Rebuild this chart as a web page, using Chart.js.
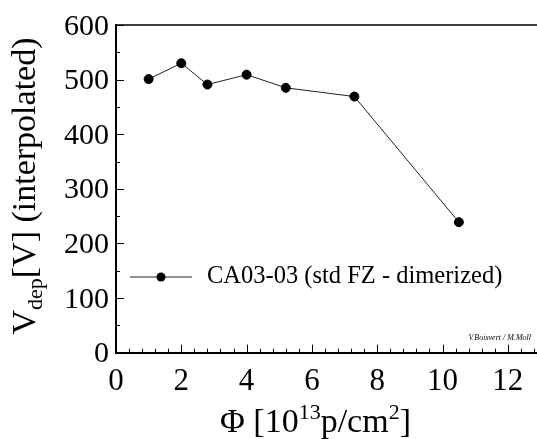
<!DOCTYPE html>
<html>
<head>
<meta charset="utf-8">
<script src="https://cdn.jsdelivr.net/npm/chart.js@4.4.0/dist/chart.umd.min.js"></script>
<style>
  html, body { margin: 0; padding: 0; background: #fff; overflow: hidden; }
  #wrap { width: 546px; height: 439px; }
</style>
</head>
<body>
<div id="wrap"><canvas id="vdepChart" width="546" height="439"></canvas></div>
<script>
// fluence in 10^13 p/cm^2 and depletion voltage in V
const fluence = [1.0, 2.0, 2.8, 4.0, 5.2, 7.3, 10.5];
const vdep = [501, 530, 491, 509, 485, 469, 239];
const seriesName = 'CA03-03 (std FZ - dimerized)';
const xRange = [0, 13];
const yRange = [0, 600];

const SERIF = "'Liberation Serif', 'Times New Roman', serif";

// inward tick marks, tick labels, top frame, titles with sub/superscripts, legend, credit
const decorations = {
  id: 'decorations',
  afterDraw(chart) {
    const ctx = chart.ctx;
    const area = chart.chartArea;
    const xs = chart.scales.x;
    const ys = chart.scales.y;
    ctx.save();
    ctx.strokeStyle = '#000';

    // top frame line
    ctx.lineWidth = 1.5;
    ctx.beginPath();
    ctx.moveTo(area.left, area.top);
    ctx.lineTo(area.right, area.top);
    ctx.stroke();

    ctx.lineWidth = 1;
    ctx.beginPath();
    for (let i = 0; i * 0.4 <= xRange[1] + 1e-9; i++) {
      const px = Math.round(xs.getPixelForValue(i * 0.4)) + 0.5;
      const len = i % 5 === 0 ? 8 : 4;
      ctx.moveTo(px, area.bottom);
      ctx.lineTo(px, area.bottom - len);
    }
    for (let v = 0; v <= yRange[1]; v += 50) {
      const py = Math.round(ys.getPixelForValue(v)) + 0.5;
      const len = v % 100 === 0 ? 8 : 4;
      ctx.moveTo(area.left, py);
      ctx.lineTo(area.left + len, py);
    }
    ctx.stroke();

    ctx.fillStyle = '#000';
    ctx.textBaseline = 'alphabetic';

    // tick labels from the scales' own ticks
    ctx.font = '31px ' + SERIF;
    ctx.textAlign = 'center';
    xs.ticks.forEach(t => ctx.fillText(String(t.value), xs.getPixelForValue(t.value), 390));
    ctx.font = '30px ' + SERIF;
    ctx.textAlign = 'right';
    ys.ticks.forEach(t => ctx.fillText(String(t.value), area.left - 7, ys.getPixelForValue(t.value) + 9.5));

    ctx.textAlign = 'left';

    // y title: V_dep[V] (interpolated)
    const big = '34px ' + SERIF;
    const small = '22px ' + SERIF;
    const yParts = [
      { t: 'V', f: big, dy: 0 },
      { t: 'dep', f: small, dy: 7 },
      { t: '[V] (interpolated)', f: big, dy: 0 }
    ];
    let total = 0;
    yParts.forEach(p => { ctx.font = p.f; p.w = ctx.measureText(p.t).width; total += p.w; });
    ctx.save();
    ctx.translate(35, 186);
    ctx.rotate(-Math.PI / 2);
    let x = -total / 2;
    yParts.forEach(p => { ctx.font = p.f; ctx.fillText(p.t, x, p.dy); x += p.w; });
    ctx.restore();

    // x title: Φ [10^13 p/cm^2]
    const xParts = [
      { t: 'Φ [10', f: '34px ' + SERIF, dy: 0 },
      { t: '13', f: '22px ' + SERIF, dy: -13 },
      { t: 'p/cm', f: '34px ' + SERIF, dy: 0 },
      { t: '2', f: '22px ' + SERIF, dy: -13 },
      { t: ']', f: '34px ' + SERIF, dy: 0 }
    ];
    x = 220;
    xParts.forEach(p => { ctx.font = p.f; ctx.fillText(p.t, x, 432 + p.dy); x += ctx.measureText(p.t).width; });

    // legend entry
    const ly = 277;
    ctx.strokeStyle = '#222';
    ctx.lineWidth = 1;
    ctx.beginPath();
    ctx.moveTo(130, ly);
    ctx.lineTo(192, ly);
    ctx.stroke();
    ctx.beginPath();
    ctx.arc(161, ly, 4.5, 0, Math.PI * 2);
    ctx.fill();
    ctx.font = '24.5px ' + SERIF;
    ctx.textBaseline = 'middle';
    ctx.fillText(seriesName, 207, ly);

    // credit
    ctx.font = 'italic 8px ' + SERIF;
    ctx.textAlign = 'right';
    ctx.textBaseline = 'alphabetic';
    ctx.fillText('V.Boisvert / M.Moll', 531, 340);
    ctx.restore();
  }
};

new Chart(document.getElementById('vdepChart'), {
  type: 'scatter',
  data: {
    datasets: [{
      label: seriesName,
      data: fluence.map((f, i) => ({ x: f, y: vdep[i] })),
      showLine: true,
      borderColor: '#222',
      borderWidth: 1,
      backgroundColor: '#000',
      pointBackgroundColor: '#000',
      pointBorderColor: '#000',
      pointRadius: 4.5,
      tension: 0
    }]
  },
  options: {
    responsive: false,
    animation: false,
    devicePixelRatio: 1,
    layout: { padding: { top: 25, right: 4, left: 0, bottom: 0 } },
    plugins: { legend: { display: false }, tooltip: { enabled: false } },
    scales: {
      x: {
        type: 'linear',
        min: xRange[0],
        max: xRange[1],
        grid: { display: false },
        border: { display: true, color: '#000', width: 2 },
        ticks: { display: false, stepSize: 2, includeBounds: false },
        afterFit(s) { s.height = 86.3; }
      },
      y: {
        type: 'linear',
        min: yRange[0],
        max: yRange[1],
        grid: { display: false },
        border: { display: true, color: '#000', width: 2 },
        ticks: { display: false, stepSize: 100 },
        afterFit(s) { s.width = 116; }
      }
    }
  },
  plugins: [decorations]
});
</script>
</body>
</html>
